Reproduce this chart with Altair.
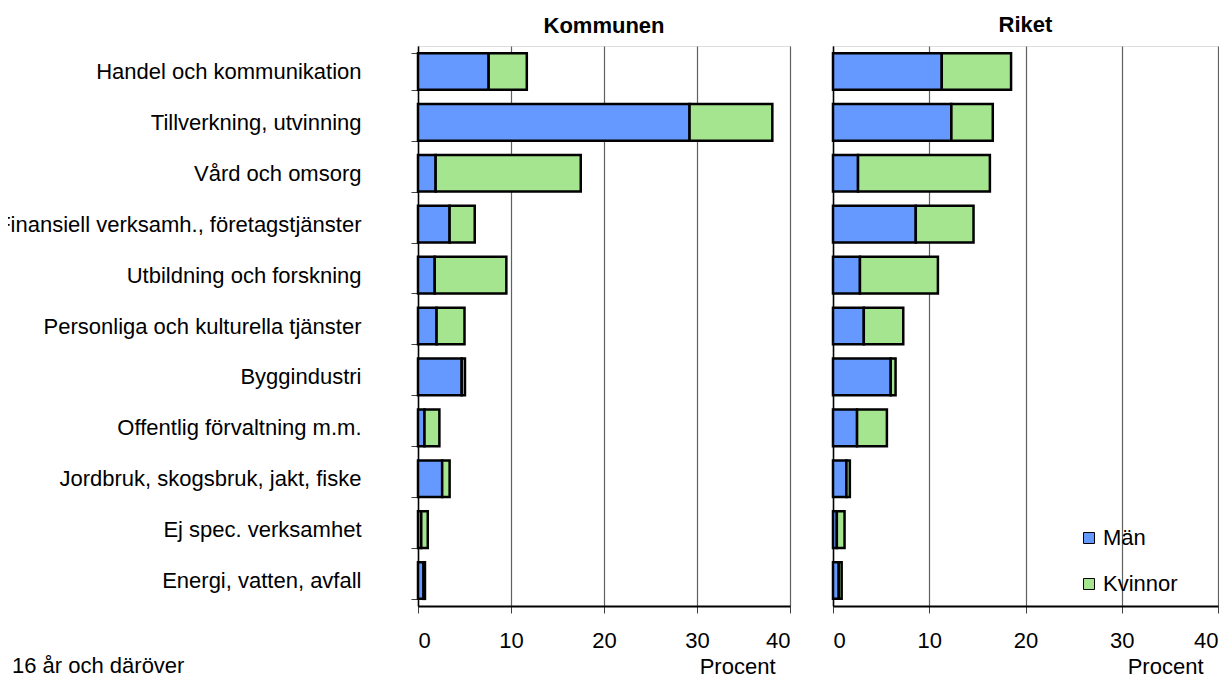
import altair as alt
import pandas as pd

categories = [
    "Handel och kommunikation",
    "Tillverkning, utvinning",
    "Vård och omsorg",
    "Finansiell verksamh., företagstjänster",
    "Utbildning och forskning",
    "Personliga och kulturella tjänster",
    "Byggindustri",
    "Offentlig förvaltning m.m.",
    "Jordbruk, skogsbruk, jakt, fiske",
    "Ej spec. verksamhet",
    "Energi, vatten, avfall",
]
kommun_man = [7.6, 29.2, 1.9, 3.4, 1.8, 2.0, 4.7, 0.7, 2.6, 0.35, 0.6]
kommun_kvinnor = [4.1, 8.9, 15.6, 2.7, 7.7, 3.0, 0.35, 1.6, 0.8, 0.7, 0.15]
riket_man = [11.3, 12.3, 2.6, 8.6, 2.8, 3.2, 6.0, 2.5, 1.4, 0.4, 0.6]
riket_kvinnor = [7.2, 4.3, 13.7, 6.0, 8.1, 4.1, 0.5, 3.1, 0.35, 0.8, 0.3]
series = ["Män", "Kvinnor"]
colors = ["#6699FF", "#A6E58F"]
panels = ["Kommunen", "Riket"]
x_ticks = [0, 10, 20, 30, 40]
caption = "16 år och däröver"
x_title = "Procent"

rows = []
for panel, man, kv in [("Kommunen", kommun_man, kommun_kvinnor), ("Riket", riket_man, riket_kvinnor)]:
    for i, c in enumerate(categories):
        rows.append({"panel": panel, "kategori": c, "kon": series[0], "procent": man[i], "ordning": 0})
        rows.append({"panel": panel, "kategori": c, "kon": series[1], "procent": kv[i], "ordning": 1})
df = pd.DataFrame(rows)
caption_df = pd.DataFrame({"text": [caption]})

FONT = "Liberation Sans"
FS = 22


def make_bars(name, width, first):
    if first:
        yaxis = alt.Axis(
            title=None,
            labelFontSize=FS, labelFont=FONT, labelColor="black", labelLimit=0,
            labelPadding=50, tickSize=7, tickColor="#404040", tickBand="extent",
            domainColor="black", domainWidth=1.5,
        )
    else:
        yaxis = alt.Axis(title=None, labels=False, ticks=False, domainColor="black", domainWidth=1.5)
    return (
        alt.Chart(df[df.panel == name])
        .mark_bar(stroke="black", strokeWidth=2.5)
        .encode(
            x=alt.X(
                "procent:Q", stack="zero",
                scale=alt.Scale(domain=[0, 40], nice=False),
                axis=alt.Axis(
                    values=x_ticks, title=x_title, titleX=width - 15, titleY=67,
                    titleAlign="right", titleBaseline="alphabetic", titleFontWeight="normal",
                    titleFontSize=FS, titleFont=FONT, titleColor="black",
                    labelFontSize=FS, labelFont=FONT, labelColor="black", labelPadding=17,
                    tickSize=7, tickColor="#404040", grid=True, gridColor="#606060",
                    gridWidth=1.2, domainColor="black", domainWidth=2,
                ),
            ),
            y=alt.Y(
                "kategori:N", sort=categories,
                scale=alt.Scale(paddingInner=0.28, paddingOuter=0.14),
                axis=yaxis,
            ),
            color=alt.Color(
                "kon:N", scale=alt.Scale(domain=series, range=colors),
                legend=alt.Legend(
                    title=None, orient="none", legendX=660, legendY=481,
                    symbolType="square", symbolSize=121, symbolStrokeColor="black",
                    symbolStrokeWidth=1, labelFontSize=FS, labelFont=FONT,
                    labelColor="black", rowPadding=24, labelOffset=3,
                ),
            ),
            order=alt.Order("ordning:Q"),
        )
    )


title_kw = dict(fontSize=FS, font=FONT, fontWeight="bold", color="black",
                anchor="middle", frame="group")

caption_layer = (
    alt.Chart(caption_df)
    .mark_text(align="left", baseline="alphabetic", fontSize=FS, font=FONT, color="black")
    .encode(text="text:N", x=alt.value(-406), y=alt.value(627))
)

left = alt.layer(make_bars(panels[0], 372, True), caption_layer).properties(
    width=372, height=560, title=alt.TitleParams(panels[0], offset=-3, **title_kw)
)
right = make_bars(panels[1], 385, False).properties(
    width=385, height=560, title=alt.TitleParams(panels[1], offset=9, **title_kw)
)

chart = (
    alt.hconcat(left, right, spacing=43, bounds="flush")
    .properties(padding={"left": -12, "top": 5, "right": 0, "bottom": 0})
    .configure_view(stroke="#404040", strokeWidth=1.2)
    .configure(font=FONT, background="white")
)

chart.save("out.html", embed_options={"renderer": "svg", "actions": False})
